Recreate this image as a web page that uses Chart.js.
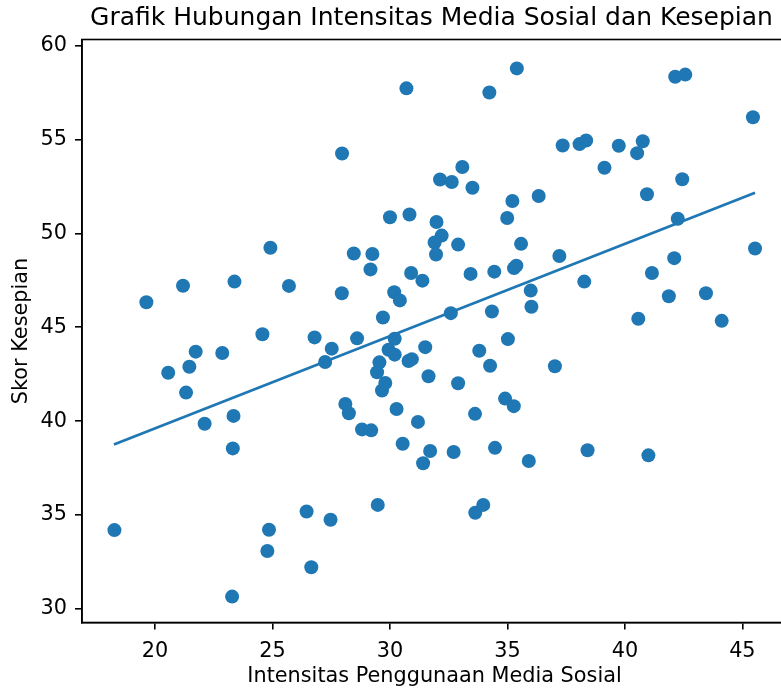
<!DOCTYPE html>
<html><head><meta charset="utf-8">
<script src="https://cdn.jsdelivr.net/npm/chart.js@4.4.0/dist/chart.umd.min.js"></script>
<style>
html,body{margin:0;padding:0;overflow:hidden;background:#fff;width:781px;height:688px}
#wrap{position:relative;width:863px;height:688px}
</style>
</head><body><div id="wrap"><canvas id="c" width="863" height="688"></canvas></div>
<script>
const intensitas = [18.27,19.63,20.56,21.19,21.46,21.32,21.73,22.11,22.86,23.38,23.34,23.31,23.28,24.57,24.91,24.85,24.78,25.7,26.45,26.79,
26.65,27.24,27.47,27.52,27.96,27.95,28.1,28.25,28.46,28.6,28.81,29.17,29.25,29.2,29.48,29.45,29.55,29.7,29.66,29.8,
29.94,30.0,30.18,30.2,30.2,30.28,30.42,30.54,30.7,30.83,30.79,30.9,30.93,31.19,31.38,31.41,31.5,31.64,31.71,31.98,
32.2,31.9,31.96,32.13,32.63,32.59,32.71,32.9,32.9,33.08,33.51,33.43,33.62,33.63,33.8,33.97,34.23,34.26,34.34,34.44,
34.47,34.9,34.99,35.02,35.21,35.27,35.28,35.38,35.4,35.58,35.91,35.99,36.02,36.33,37.02,37.21,37.35,38.07,38.35,38.27,
38.41,39.13,39.74,40.52,40.76,40.57,40.94,41.0,41.15,41.87,42.1,42.14,42.57,42.44,42.25,43.45,44.12,45.45,45.54];
const kesepian = [34.2,46.33,42.58,47.21,42.9,41.52,43.7,39.86,43.63,47.43,40.28,38.55,30.66,44.63,49.23,34.22,33.09,47.2,35.19,44.46,
32.22,43.15,34.75,43.86,54.25,46.81,40.92,40.42,48.93,44.41,39.56,48.08,48.9,39.51,35.54,42.6,43.13,45.52,41.63,42.03,
43.8,50.86,46.86,43.54,44.39,40.65,46.43,38.8,57.72,51.0,43.2,47.89,43.3,39.96,47.48,37.76,43.94,42.39,38.41,50.6,
49.88,49.51,48.87,52.87,52.73,45.75,38.36,49.4,42.02,53.53,52.43,47.84,40.39,35.12,43.75,35.54,57.5,42.95,45.84,47.96,
38.58,41.2,50.82,44.37,51.72,40.8,48.15,48.28,58.78,49.44,37.88,46.95,46.09,51.99,42.92,48.79,54.68,54.75,54.94,47.43,
38.45,53.49,54.66,54.27,54.9,45.45,52.08,38.18,47.89,46.65,48.68,58.34,58.45,52.88,50.78,46.81,45.34,56.18,49.19];
const garisX = [18.25, 45.54];
const garisY = [38.76, 52.16];
const xTicks = [20,25,30,35,40,45];
const yTicks = [30,35,40,45,50,55,60];

const FONT = 'DejaVu Sans';
const BLUE = '#1f77b4';
const pts = intensitas.map((x,i)=>({x:x,y:kesepian[i]}));
const linePts = garisX.map((x,i)=>({x:x,y:garisY[i]}));

const frame = {
  id:'frame',
  afterDraw(chart){
    const a = chart.chartArea, ctx = chart.ctx;
    ctx.save();
    ctx.strokeStyle = '#000'; ctx.lineWidth = 1.6;
    ctx.strokeRect(a.left, a.top, a.right - a.left, a.bottom - a.top);
    ctx.restore();
  }
};

new Chart(document.getElementById('c'), {
  type:'scatter',
  data:{datasets:[
    {type:'line', data:linePts, borderColor:BLUE, borderWidth:2.8, pointRadius:0, fill:false, order:0, tension:0},
    {type:'scatter', data:pts, backgroundColor:BLUE, borderColor:BLUE, borderWidth:0, pointRadius:7, pointHoverRadius:7, order:1}
  ]},
  plugins:[frame],
  options:{
    responsive:false, animation:false, devicePixelRatio:1,
    layout:{padding:0},
    plugins:{
      legend:{display:false}, tooltip:{enabled:false},
      title:{display:true, text:'Grafik Hubungan Intensitas Media Sosial dan Kesepian', color:'#000',
        font:{family:FONT, size:25, weight:'normal'}, padding:{top:3.5, bottom:6}}
    },
    scales:{
      x:{type:'linear', position:'bottom', min:16.89, max:46.9,
        afterBuildTicks:s=>{s.ticks = xTicks.map(v=>({value:v}));},
        afterFit:s=>{s.height = 65.5;},
        ticks:{font:{family:FONT,size:20.8}, color:'#000', padding:10, maxRotation:0, autoSkip:false},
        grid:{drawOnChartArea:false, drawTicks:true, tickLength:7, color:'#000', lineWidth:1.6},
        border:{display:true, color:'#000', width:1.6},
        title:{display:true, text:'Intensitas Penggunaan Media Sosial', color:'#000', font:{family:FONT,size:20.8,lineHeight:1.1}, padding:{top:0,bottom:0}}
      },
      y:{type:'linear', position:'left', min:29.28, max:60.32,
        afterBuildTicks:s=>{s.ticks = yTicks.map(v=>({value:v}));},
        afterFit:s=>{s.width = 82;},
        ticks:{font:{family:FONT,size:20.8}, color:'#000', padding:8, autoSkip:false},
        grid:{drawOnChartArea:false, drawTicks:true, tickLength:7, color:'#000', lineWidth:1.6},
        border:{display:true, color:'#000', width:1.6},
        title:{display:true, text:'Skor Kesepian', color:'#000', font:{family:FONT,size:20.8}, padding:{top:9,bottom:0}}
      },
      y2:{type:'linear', position:'right', display:true,
        afterFit:s=>{s.width = 76;},
        ticks:{display:false}, grid:{display:false}, border:{display:false}, title:{display:false}
      }
    }
  }
});
</script>
</body></html>
